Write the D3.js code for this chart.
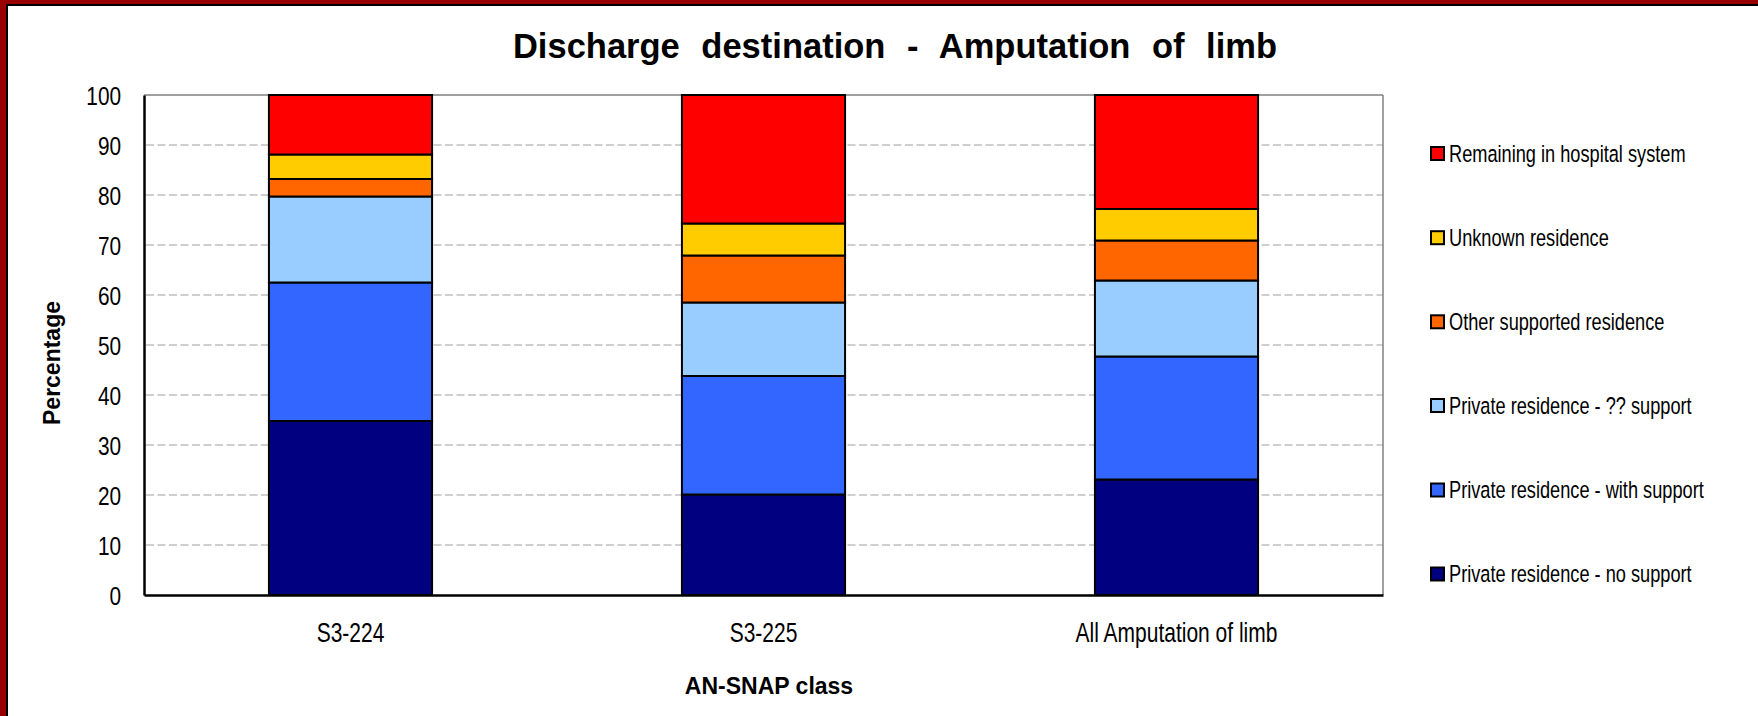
<!DOCTYPE html>
<html>
<head>
<meta charset="utf-8">
<script src="https://cdn.jsdelivr.net/npm/d3@7"></script>
<style>
  body { margin: 0; background: #fff; }
  text { font-family: "Liberation Sans", Arial, sans-serif; fill: #000; }
</style>
</head>
<body>
<div id="chart"></div>
<script>
const categories = ["S3-224", "S3-225", "All Amputation of limb"];
const seriesNames = [
    "Private residence - no support",
    "Private residence - with support",
    "Private residence - ?? support",
    "Other supported residence",
    "Unknown residence",
    "Remaining in hospital system"
];
const seriesColors = ["#000080", "#3366FF", "#99CCFF", "#FF6600", "#FFCC00", "#FF0000"];
const noSupport = [34.8, 20.1, 23.1];
const withSupport = [27.7, 23.7, 24.6];
const unknownSupport = [17.2, 14.7, 15.2];
const otherSupported = [3.5, 9.4, 8.0];
const unknownResidence = [4.9, 6.4, 6.3];
const remaining = [11.9, 25.7, 22.8];
const yTicks = [0, 10, 20, 30, 40, 50, 60, 70, 80, 90, 100];

const W = 1758, H = 716;
const stretch = 1.28; // regular text in the original is drawn taller than wide

const svg = d3.select("#chart").append("svg")
    .attr("width", W)
    .attr("height", H);

svg.append("rect").attr("width", W).attr("height", H).attr("fill", "#990000");
svg.append("rect")
    .attr("x", 7).attr("y", 5)
    .attr("width", W + 20).attr("height", H + 20)
    .attr("fill", "#fff")
    .attr("stroke", "#000")
    .attr("stroke-width", 2);

const plot = {left: 144, right: 1383, top: 95, bottom: 595};

const rows = categories.map((c, i) => ({
    category: c,
    [seriesNames[0]]: noSupport[i],
    [seriesNames[1]]: withSupport[i],
    [seriesNames[2]]: unknownSupport[i],
    [seriesNames[3]]: otherSupported[i],
    [seriesNames[4]]: unknownResidence[i],
    [seriesNames[5]]: remaining[i]
}));

const stacked = d3.stack().keys(seriesNames)(rows);

const x = d3.scaleBand()
    .domain(categories)
    .range([plot.left, plot.right])
    .paddingInner(0.605)
    .paddingOuter(0.3025);

const y = d3.scaleLinear()
    .domain([0, 100])
    .range([plot.bottom, plot.top]);

const color = d3.scaleOrdinal().domain(seriesNames).range(seriesColors);

// gridlines
svg.append("g")
    .selectAll("line")
    .data(yTicks.filter(t => t > 0 && t < 100))
    .enter()
    .append("line")
    .attr("x1", plot.left + 2)
    .attr("x2", plot.right)
    .attr("y1", d => y(d))
    .attr("y2", d => y(d))
    .attr("stroke", "#C0C0C0")
    .attr("stroke-width", 1.5)
    .attr("stroke-dasharray", "8,3.5");

// top and right border of plot area
svg.append("line")
    .attr("x1", plot.left).attr("x2", plot.right)
    .attr("y1", y(100)).attr("y2", y(100))
    .attr("stroke", "#808080").attr("stroke-width", 1.5);
svg.append("line")
    .attr("x1", plot.right).attr("x2", plot.right)
    .attr("y1", y(100)).attr("y2", y(0))
    .attr("stroke", "#808080").attr("stroke-width", 1.5);

// bars
svg.append("g")
    .selectAll("g")
    .data(stacked)
    .enter()
    .append("g")
    .attr("fill", d => color(d.key))
    .selectAll("rect")
    .data(d => d)
    .enter()
    .append("rect")
    .attr("x", d => x(d.data.category))
    .attr("width", x.bandwidth())
    .attr("y", d => y(d[1]))
    .attr("height", d => y(d[0]) - y(d[1]))
    .attr("stroke", "#000")
    .attr("stroke-width", 2);

// y axis
const yAxis = svg.append("g")
    .attr("transform", `translate(${plot.left},0)`)
    .call(d3.axisLeft(y).tickValues(yTicks).tickSize(0).tickPadding(23));
yAxis.select(".domain").attr("stroke", "#000").attr("stroke-width", 2.5);
yAxis.selectAll("text")
    .attr("font-size", 20.8)
    .attr("font-family", "Liberation Sans, Arial, sans-serif")
    .attr("fill", "#000")
    .attr("dy", "0.36em")
    .attr("transform", `scale(1,${stretch})`);

// x axis
const xAxis = svg.append("g")
    .attr("transform", `translate(0,${plot.bottom})`)
    .call(d3.axisBottom(x).tickSize(0).tickPadding(22));
xAxis.select(".domain").attr("stroke", "#000").attr("stroke-width", 2.5);
xAxis.selectAll("text")
    .attr("font-size", 21)
    .attr("font-family", "Liberation Sans, Arial, sans-serif")
    .attr("fill", "#000")
    .attr("transform", `scale(1,${stretch})`);

// title
svg.append("text")
    .attr("x", 895)
    .attr("y", 58)
    .attr("text-anchor", "middle")
    .attr("font-size", 34.5)
    .attr("font-weight", "bold")
    .style("word-spacing", "12px")
    .text("Discharge destination - Amputation of limb");

// axis titles
svg.append("text")
    .attr("x", 769)
    .attr("y", 694)
    .attr("text-anchor", "middle")
    .attr("font-size", 23)
    .attr("font-weight", "bold")
    .text("AN-SNAP class");

svg.append("text")
    .attr("transform", "translate(60,363) rotate(-90)")
    .attr("text-anchor", "middle")
    .attr("font-size", 23)
    .attr("font-weight", "bold")
    .text("Percentage");

// legend
const legendY = [153.5, 237.7, 321.8, 405.5, 490, 574];
const legend = svg.append("g")
    .selectAll("g")
    .data(seriesNames.slice().reverse())
    .enter()
    .append("g")
    .attr("transform", (d, i) => `translate(1431,${legendY[i]})`);

legend.append("rect")
    .attr("x", 0).attr("y", -6.5)
    .attr("width", 13).attr("height", 13)
    .attr("fill", d => color(d))
    .attr("stroke", "#000")
    .attr("stroke-width", 2);

legend.append("g")
    .attr("transform", `translate(18,0) scale(1,${stretch})`)
    .append("text")
    .attr("dy", "0.36em")
    .attr("font-size", 18.2)
    .text(d => d);
</script>
</body>
</html>
